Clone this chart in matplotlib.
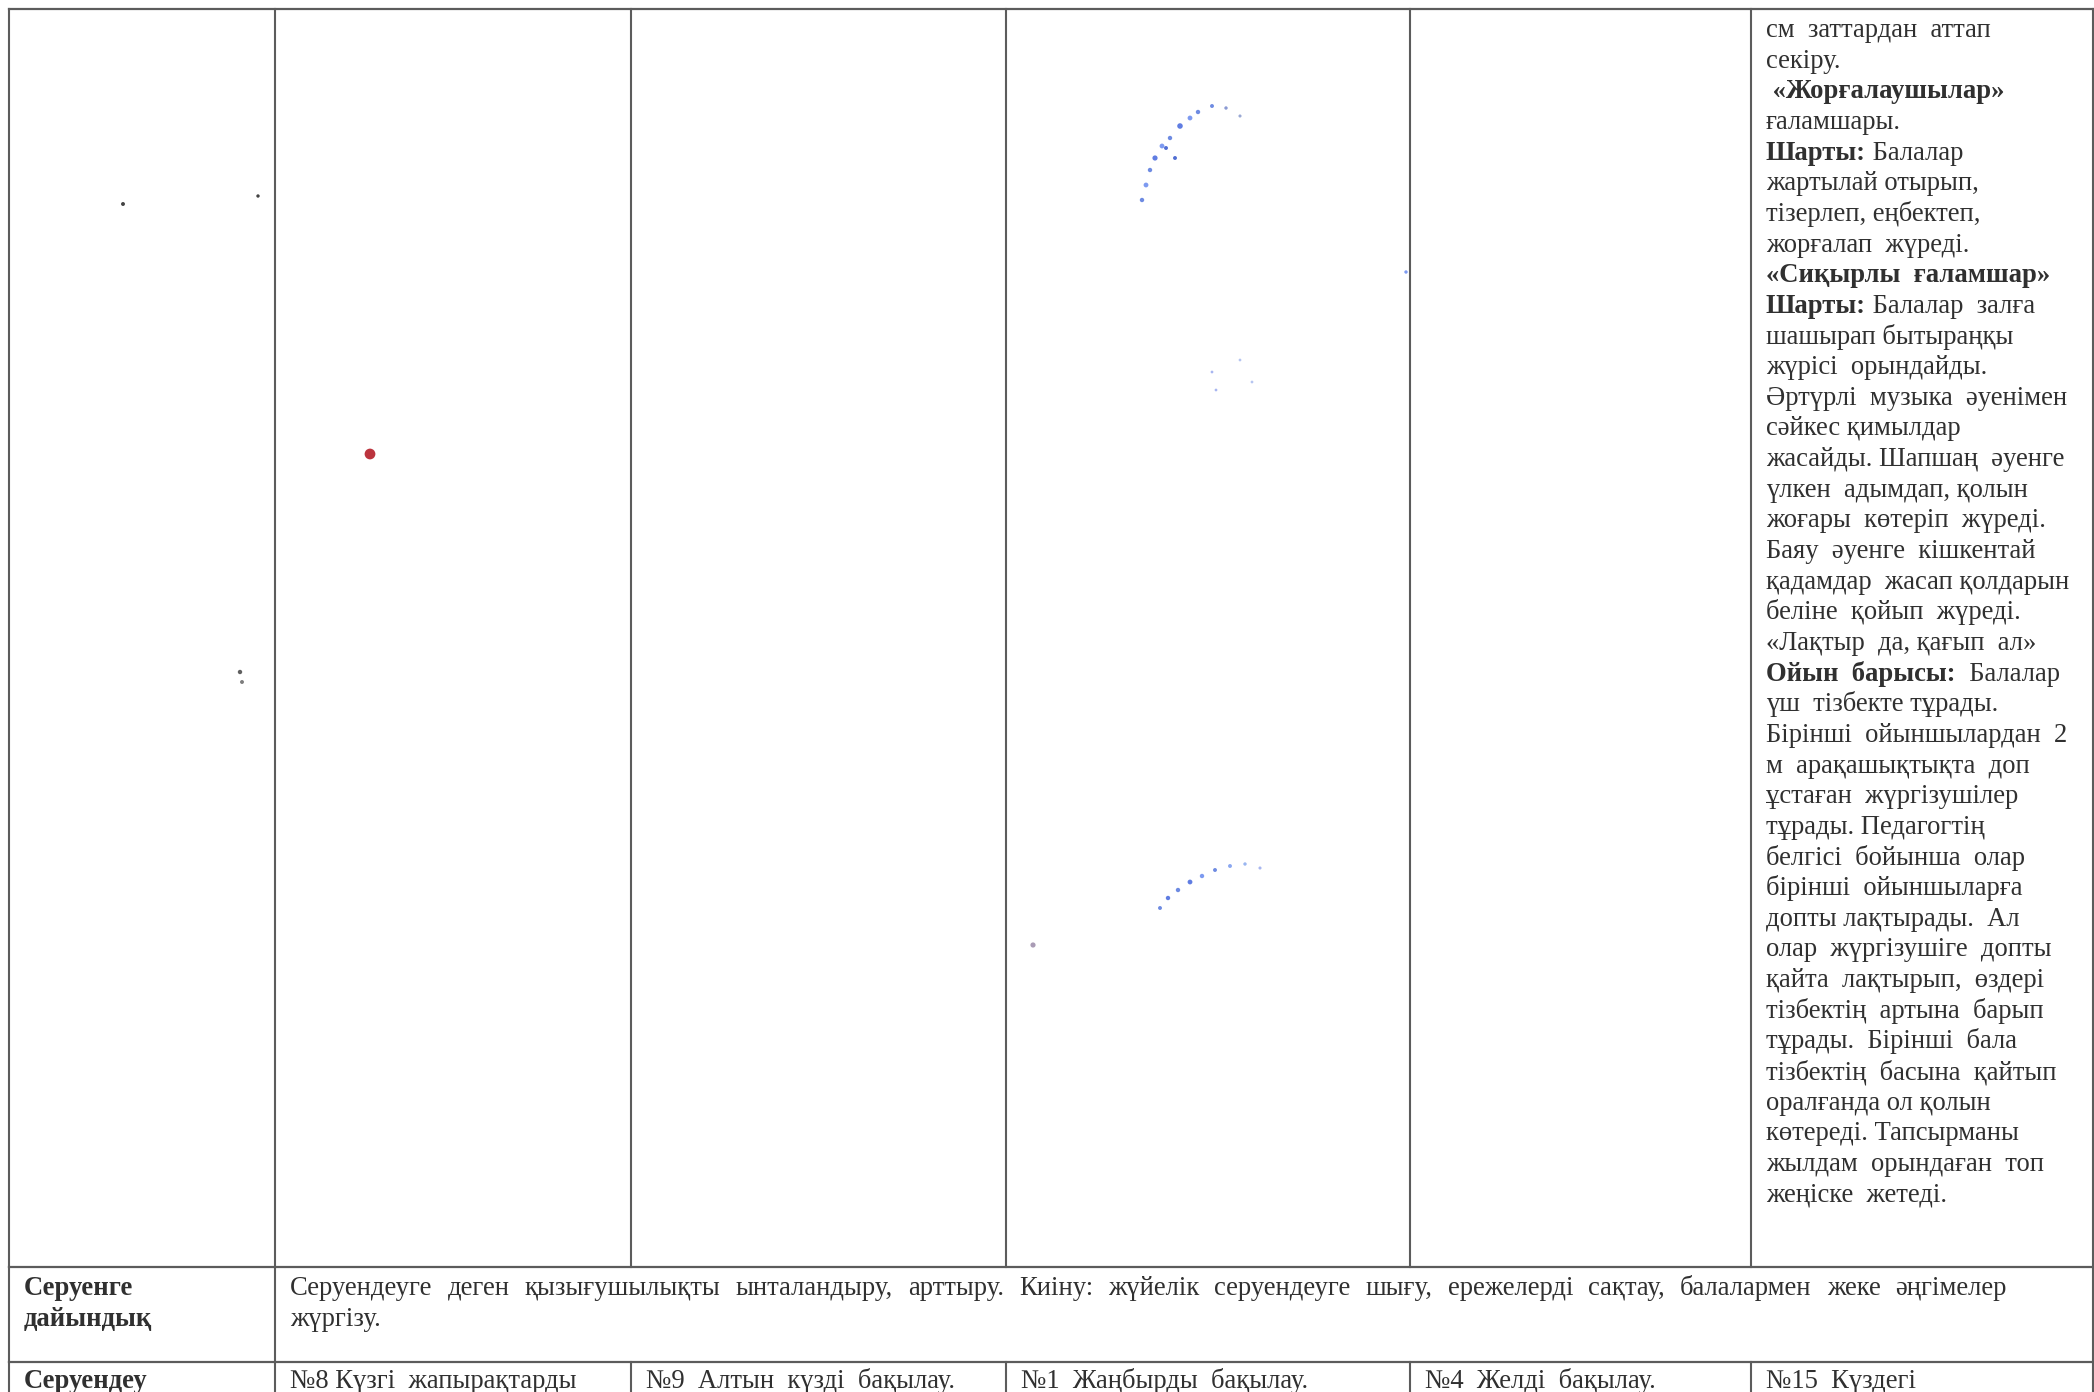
import matplotlib
matplotlib.use("Agg")
import matplotlib.pyplot as plt

plt.rcParams["font.family"] = ["Liberation Serif", "DejaVu Serif"]

W, H = 2094, 1392

# table grid (page pixels)
COL_EDGES = [9, 275, 631, 1006, 1410, 1751, 2093]
ROW_EDGES = [9, 1267, 1362, 1400]

# right-hand cell of the upper row: (bold part, plain part)
RIGHT_LINES = [
    ("", "см  заттардан  аттап"),
    ("", "секіру."),
    (" «Жорғалаушылар»", ""),
    ("", "ғаламшары."),
    ("Шарты:", " Балалар"),
    ("", "жартылай отырып,"),
    ("", "тізерлеп, еңбектеп,"),
    ("", "жорғалап  жүреді."),
    ("«Сиқырлы  ғаламшар»", ""),
    ("Шарты:", " Балалар  залға"),
    ("", "шашырап бытыраңқы"),
    ("", "жүрісі  орындайды."),
    ("", "Әртүрлі  музыка  әуенімен"),
    ("", "сәйкес қимылдар"),
    ("", "жасайды. Шапшаң  әуенге"),
    ("", "үлкен  адымдап, қолын"),
    ("", "жоғары  көтеріп  жүреді."),
    ("", "Баяу  әуенге  кішкентай"),
    ("", "қадамдар  жасап қолдарын"),
    ("", "беліне  қойып  жүреді."),
    ("", "«Лақтыр  да, қағып  ал»"),
    ("Ойын  барысы:", "  Балалар"),
    ("", "үш  тізбекте тұрады."),
    ("", "Бірінші  ойыншылардан  2"),
    ("", "м  арақашықтықта  доп"),
    ("", "ұстаған  жүргізушілер"),
    ("", "тұрады. Педагогтің"),
    ("", "белгісі  бойынша  олар"),
    ("", "бірінші  ойыншыларға"),
    ("", "допты лақтырады.  Ал"),
    ("", "олар  жүргізушіге  допты"),
    ("", "қайта  лақтырып,  өздері"),
    ("", "тізбектің  артына  барып"),
    ("", "тұрады.  Бірінші  бала"),
    ("", "тізбектің  басына  қайтып"),
    ("", "оралғанда ол қолын"),
    ("", "көтереді. Тапсырманы"),
    ("", "жылдам  орындаған  топ"),
    ("", "жеңіске  жетеді."),
]

ROW2_LABEL = ["Серуенге", "дайындық"]
ROW2_TEXT = ("Серуендеуге деген қызығушылықты ынталандыру, арттыру. Киіну: жүйелік "
             "серуендеуге шығу, ережелерді сақтау, балалармен жеке әңгімелер")
ROW2_TEXT_END = "жүргізу."

ROW3_LABEL = "Серуендеу"
ROW3_CELLS = ["№8 Күзгі  жапырақтарды", "№9  Алтын  күзді  бақылау.",
              "№1  Жаңбырды  бақылау.", "№4  Желді  бақылау.", "№15  Күздегі"]

# scan specks: (x, y, size, colour)
SPECKS = [
    (370, 454, 60, "#b0101c"), (123, 204, 8, "#222222"), (258, 196, 6, "#222222"),
    (240, 672, 10, "#444444"), (242, 682, 8, "#666666"), (1033, 945, 14, "#9a8aa8"),
    (1142, 200, 10, "#5577dd"), (1146, 185, 12, "#6688ee"), (1150, 170, 10, "#5577dd"),
    (1155, 158, 14, "#4466dd"), (1162, 146, 12, "#6688ee"), (1170, 138, 10, "#5577dd"),
    (1180, 126, 16, "#4466dd"), (1190, 118, 12, "#6688ee"), (1198, 112, 10, "#5577dd"),
    (1212, 106, 8, "#5577dd"), (1226, 108, 6, "#7788cc"), (1240, 116, 5, "#8899cc"),
    (1166, 148, 8, "#3355cc"), (1175, 158, 8, "#3355cc"),
    (1160, 908, 8, "#5577dd"), (1168, 898, 10, "#4466dd"), (1178, 890, 10, "#5577dd"),
    (1190, 882, 12, "#4466dd"), (1202, 876, 10, "#6688ee"), (1215, 870, 8, "#5577dd"),
    (1230, 866, 8, "#7799ee"), (1245, 864, 6, "#88aaee"), (1260, 868, 5, "#99aaee"),
    (1212, 372, 4, "#99aaee"), (1216, 390, 4, "#99aaee"), (1240, 360, 4, "#aabbee"),
    (1252, 382, 4, "#aabbee"), (1406, 272, 6, "#6688ee"),
]

TEXT_COLOR = "#303030"
LINE_COLOR = "#5c5c5c"
FS = 19.2
PAD = 15
LINE_STEP = 30.65


def put(ax, x, y, s, bold=False):
    return ax.text(x, y, s, fontsize=FS, color=TEXT_COLOR, va="baseline", ha="left",
                   fontweight="bold" if bold else "normal")


def width_of(fig, t):
    r = fig.canvas.get_renderer()
    return t.get_window_extent(renderer=r).width


def justify(fig, ax, x0, x1, y, text):
    words = text.split()
    items = [put(ax, x0, y, w) for w in words]
    widths = [width_of(fig, t) for t in items]
    gap = (x1 - x0 - sum(widths)) / (len(words) - 1)
    x = x0
    for t, w in zip(items, widths):
        t.set_x(x)
        x += w + gap


def main():
    fig = plt.figure(figsize=(W / 100, H / 100), dpi=100)
    ax = fig.add_axes([0, 0, 1, 1])
    ax.set_xlim(0, W)
    ax.set_ylim(H, 0)
    ax.axis("off")

    # grid: vertical lines in the upper row, then the rows below
    top, r1, r2, bottom = ROW_EDGES
    for x in COL_EDGES:
        ax.plot([x, x], [top, r1], color=LINE_COLOR, lw=1.5)
    for x in (COL_EDGES[0], COL_EDGES[1], COL_EDGES[-1]):
        ax.plot([x, x], [r1, r2], color=LINE_COLOR, lw=1.5)
    for x in COL_EDGES:
        ax.plot([x, x], [r2, bottom], color=LINE_COLOR, lw=1.5)
    for y in (top, r1, r2):
        ax.plot([COL_EDGES[0], COL_EDGES[-1]], [y, y], color=LINE_COLOR, lw=1.6)

    # right cell text
    x0 = COL_EDGES[5] + PAD
    for i, (b, n) in enumerate(RIGHT_LINES):
        y = 37 + i * LINE_STEP
        x = x0
        if b:
            t = put(ax, x, y, b, bold=True)
            x += width_of(fig, t)
        if n:
            put(ax, x, y, n)

    # "Серуенге дайындық" row
    put(ax, COL_EDGES[0] + PAD, 1295, ROW2_LABEL[0], bold=True)
    put(ax, COL_EDGES[0] + PAD, 1295 + LINE_STEP, ROW2_LABEL[1], bold=True)
    justify(fig, ax, COL_EDGES[1] + 15, 2007, 1295, ROW2_TEXT)
    put(ax, COL_EDGES[1] + 15, 1295 + LINE_STEP, ROW2_TEXT_END)

    # "Серуендеу" row
    put(ax, COL_EDGES[0] + PAD, 1388, ROW3_LABEL, bold=True)
    for c, s in enumerate(ROW3_CELLS):
        put(ax, COL_EDGES[c + 1] + PAD, 1388, s)

    xs = [p[0] for p in SPECKS]
    ys = [p[1] for p in SPECKS]
    ax.scatter(xs, ys, s=[p[2] for p in SPECKS], c=[p[3] for p in SPECKS],
               linewidths=0, alpha=0.85)

    fig.savefig("out.png", dpi=100)
    plt.close(fig)


if __name__ == "__main__":
    main()
